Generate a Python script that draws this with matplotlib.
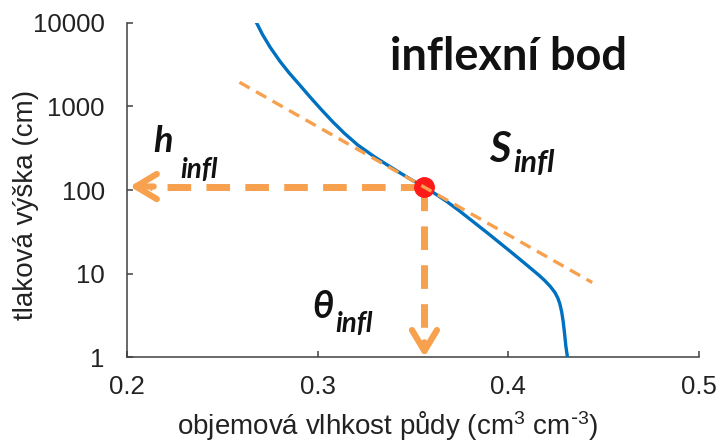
import matplotlib.pyplot as plt

# retention curve (theta vs pressure head)
theta = [0.268, 0.271, 0.275, 0.280, 0.285, 0.290, 0.296, 0.302, 0.308,
         0.314, 0.321, 0.330, 0.340, 0.350, 0.356, 0.362, 0.368, 0.374,
         0.380, 0.390, 0.401, 0.407, 0.412, 0.416, 0.419, 0.422, 0.4245,
         0.426, 0.427, 0.428, 0.4288, 0.4295, 0.4302, 0.431]
head = [10000, 7330, 5160, 3530, 2530, 1875, 1300, 914, 652,
        478, 346, 248, 178, 129, 110, 89, 72, 57,
        44.5, 29.4, 18.4, 14.2, 11.4, 9.56, 8.27, 7.0, 5.9,
        5.05, 4.35, 3.45, 2.62, 1.9, 1.33, 1.0]

# tangent at the inflection point
tan_theta = [0.259, 0.444]
tan_head = [1950, 7.8]

# inflection point
theta_infl = 0.356
h_infl = 110

xticks = [0.2, 0.3, 0.4, 0.5]
xtick_labels = ['0.2', '0.3', '0.4', '0.5']
yticks = [1, 10, 100, 1000, 10000]
ytick_labels = ['1', '10', '100', '1000', '10000']

blue = '#0070C0'
orange = '#F7A04E'

plt.rcParams['font.family'] = ['Liberation Sans', 'DejaVu Sans']

fig = plt.figure(figsize=(7.2, 4.44), dpi=100)
ax = fig.add_axes([127/720, 1 - 357/444, 572/720, 334/444])

ax.plot(theta, head, color=blue, lw=2.4, solid_joinstyle='round', zorder=3)
ax.plot(theta_infl, h_infl, 'o', ms=14, color='#FF1A1A', zorder=4)
ax.plot(tan_theta, tan_head, color=orange, lw=2.4, dashes=(3.5, 2.2), zorder=5)

# dashed guide arrows from the inflection point
ax.plot([theta_infl, 0.212], [h_infl, h_infl], color=orange, lw=5,
        dashes=(3.4, 2.2), solid_capstyle='butt', zorder=2)
ax.plot([theta_infl, theta_infl], [h_infl, 1.6], color=orange, lw=5,
        dashes=(3.4, 2.2), solid_capstyle='butt', zorder=2)
arrow = dict(arrowstyle='->,head_length=1.5,head_width=0.9', lw=4.5,
             color=orange, shrinkA=0, shrinkB=0)
ax.annotate('', xy=(0.2015, h_infl), xytext=(0.214, h_infl), arrowprops=arrow, zorder=2)
ax.annotate('', xy=(theta_infl, 1.0), xytext=(theta_infl, 1.5), arrowprops=arrow, zorder=2)

ax.set_yscale('log')
ax.set_xlim(0.2, 0.5)
ax.set_ylim(1, 10000)
ax.set_xticks(xticks)
ax.set_xticklabels(xtick_labels)
ax.set_yticks(yticks)
ax.set_yticklabels(ytick_labels)
ax.minorticks_off()
ax.tick_params(direction='in', length=4, width=1.1, color='#404040',
               labelsize=18.5, labelcolor='#222222')
ax.tick_params(axis='y', pad=16)
ax.tick_params(axis='x', pad=13)
for side in ['top', 'right']:
    ax.spines[side].set_visible(False)
for side in ['left', 'bottom']:
    ax.spines[side].set_color('#404040')
    ax.spines[side].set_linewidth(1.1)

ax.set_ylabel('tlaková výška (cm)', fontsize=20, color='#222222')
ax.yaxis.set_label_coords(-0.154, 0.455)
ax.set_xlabel(r'objemová vlhkost půdy (cm$\mathregular{^{3}}$ cm$\mathregular{^{\text{-}3}}$)',
              fontsize=20, color='#222222')
ax.xaxis.set_label_coords(0.456, -0.155)

# annotations
ax.text(0.3379, 2735, 'inflexní bod', fontsize=32.5, fontweight='bold',
        family='Lato', va='baseline', ha='left', color='#111111')
lab = dict(family=['Lato', 'DejaVu Sans'], fontweight='bold', style='italic',
           va='baseline', ha='left', color='#111111')
ax.text(0.2140, 285, 'h', fontsize=26, **lab)
ax.text(0.2278, 140, 'infl', fontsize=20, **lab)
ax.text(0.3900, 216, 'S', fontsize=30, **lab)
ax.text(0.4025, 163, 'infl', fontsize=22, **lab)
ax.text(0.2970, 2.93, 'θ', fontsize=27, **lab)
ax.text(0.3091, 1.98, 'infl', fontsize=20, **lab)

fig.savefig('out.png', dpi=100)
